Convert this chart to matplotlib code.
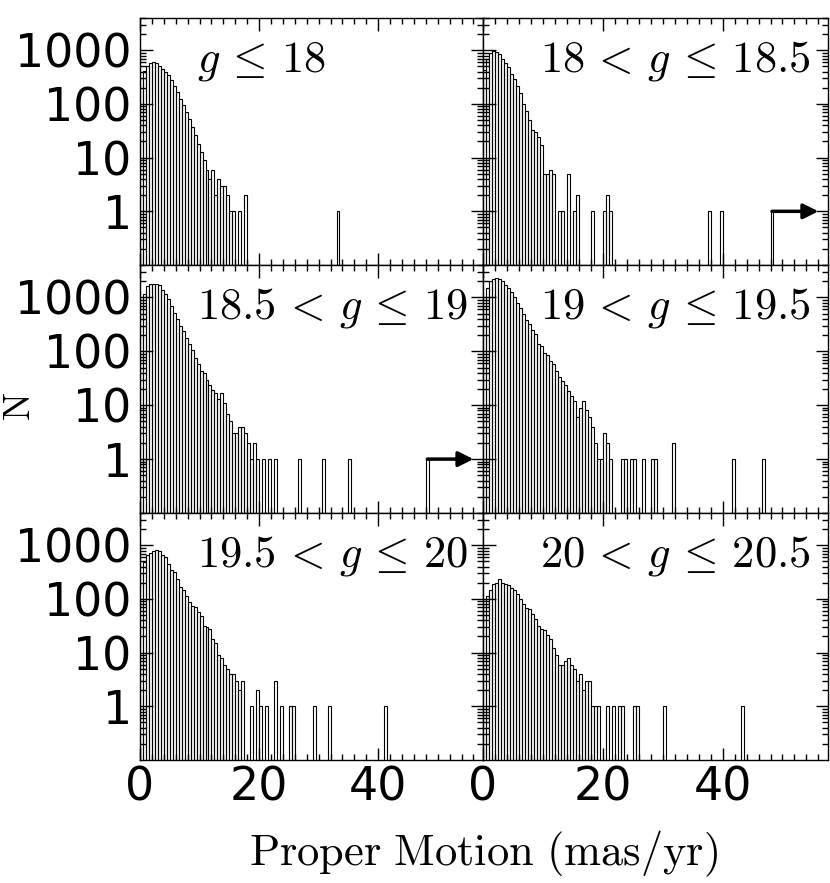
import numpy as np
import matplotlib
matplotlib.use("Agg")
import matplotlib.pyplot as plt
from matplotlib.ticker import FixedLocator, LogLocator, NullFormatter

plt.rcParams['mathtext.fontset'] = 'cm'
plt.rcParams['axes.unicode_minus'] = False

BIN = 0.5
labels = [r'$g\,\leq\,18$', r'$18\,<\,g\,\leq\,18.5$', r'$18.5\,<\,g\,\leq\,19$',
          r'$19\,<\,g\,\leq\,19.5$', r'$19.5\,<\,g\,\leq\,20$', r'$20\,<\,g\,\leq\,20.5$']

# counts in 0.5 mas/yr bins starting at 0 (contiguous block)
counts1 = [300, 420, 520, 580, 610, 575, 520, 450, 390, 340, 285, 220, 165, 125, 95, 70,
           52, 38, 26, 18, 13, 9, 6, 4, 6, 2, 4, 3, 3, 2, 1, 1, 0, 1, 0, 2]
counts2 = [423, 700, 890, 960, 935, 860, 700, 580, 490, 365, 287, 220, 162, 100, 75, 50,
           33, 30, 24, 17, 5, 5, 6, 5, 0, 1, 1, 0, 5, 0, 1, 2, 0, 0, 0, 0, 1, 0, 0, 0, 1, 2, 1]
counts3 = [1000, 1150, 1650, 1750, 1800, 1800, 1700, 1400, 1150, 930, 700, 525, 390, 295,
           240, 180, 135, 108, 75, 57, 43, 40, 30, 24, 19, 17, 13, 17, 11, 7, 5, 3, 3, 4, 4,
           3, 2, 1, 2, 1, 0, 1, 0, 1, 0, 1]
counts4 = [1000, 1490, 2000, 2190, 2270, 2190, 2000, 1720, 1490, 1240, 1000, 805, 650, 500,
           377, 317, 245, 206, 134, 125, 94, 87, 66, 57, 43, 34, 28, 24, 18, 15, 12, 6, 9, 12,
           8, 6, 4, 2, 1, 1, 3, 2, 1]
counts5 = [309, 490, 650, 730, 770, 805, 770, 650, 605, 455, 340, 317, 238, 167, 145, 116,
           87, 75, 70, 57, 49, 32, 30, 28, 18, 15, 9, 8, 6, 5, 4, 4, 3, 2, 3]
counts6 = [70, 116, 145, 192, 200, 232, 200, 192, 184, 160, 145, 125, 98, 81, 67, 66,
           53, 43, 32, 28, 26, 21, 18, 12, 9, 6, 6, 7, 8, 6, 5, 3, 4, 2, 3, 3, 1, 1, 1]
# isolated bins beyond the block: (left edge in mas/yr, count)
tail_edges = [
    [33.0],
    [37.5, 39.5],
    [26.5, 30.5, 35.0],
    [23.0, 23.5, 24.5, 25.0, 26.5, 28.0, 28.5, 31.5, 41.5, 46.5],
    [18.5, 19.5, 20.0, 21.0, 22.5, 23.5, 25.0, 25.5, 29.0, 31.5, 41.0],
    [20.5, 21.5, 22.5, 23.0, 25.0, 25.5, 30.0, 43.0],
]
tail_counts = [
    [1],
    [1, 1],
    [1, 1, 1],
    [1, 1, 1, 1, 1, 1, 1, 2, 1, 1],
    [1, 2, 1, 1, 3, 1, 1, 1, 1, 1, 1],
    [1, 1, 1, 1, 1, 1, 1, 1],
]
overflow = [None, 48.0, 48.0, None, None, None]
all_counts = [counts1, counts2, counts3, counts4, counts5, counts6]

fig = plt.figure(figsize=(8.3, 8.83), dpi=100)
W, H = 830.0, 883.0
cols = [(140, 483), (483, 828)]
rows = [(18, 265), (265, 513), (513, 760)]
TICKFONT = dict(fontsize=33, family='DejaVu Sans')

for i in range(6):
    r, c = divmod(i, 2)
    x0, x1 = cols[c]
    y0, y1 = rows[r]
    ax = fig.add_axes([x0 / W, 1 - y1 / H, (x1 - x0) / W, (y1 - y0) / H])
    cnt = np.array(all_counts[i], dtype=float)
    edges = np.arange(len(cnt)) * BIN
    edges = np.concatenate([edges, tail_edges[i]])
    cnt = np.concatenate([cnt, tail_counts[i]])
    if overflow[i] is not None:
        edges = np.append(edges, overflow[i])
        cnt = np.append(cnt, 1)
    m = cnt > 0
    ax.bar(edges[m], cnt[m], width=BIN, align='edge', bottom=0.01, fill=False,
           edgecolor='black', linewidth=0.8)
    if overflow[i] is not None:
        ax.annotate('', xy=(56.0, 1), xytext=(overflow[i] + 0.25, 1),
                    arrowprops=dict(arrowstyle='-|>,head_length=0.9,head_width=0.45',
                                    color='black', lw=2.5, shrinkA=0, shrinkB=0))
    ax.set_yscale('log')
    ax.set_xlim(0, 57.6)
    ax.set_ylim(0.1, 4000)
    ax.xaxis.set_major_locator(FixedLocator([0, 20, 40]))
    ax.xaxis.set_minor_locator(FixedLocator(np.arange(0, 58, 2)))
    ax.yaxis.set_major_locator(FixedLocator([1, 10, 100, 1000]))
    ax.yaxis.set_minor_locator(LogLocator(base=10, subs=np.arange(2, 10)))
    ax.yaxis.set_minor_formatter(NullFormatter())
    ax.tick_params(which='both', direction='in', top=True, right=True, width=1.0)
    ax.tick_params(which='major', length=9)
    ax.tick_params(which='minor', length=4.5)
    for s in ax.spines.values():
        s.set_linewidth(1.0)
    if c == 0:
        ax.set_yticklabels(['1', '10', '100', '1000'], **TICKFONT)
    else:
        ax.set_yticklabels([])
    if r == 2:
        ax.set_xticklabels(['0', '20', '40'], **TICKFONT)
    else:
        ax.set_xticklabels([])
    ax.tick_params(axis='y', which='major', pad=6)
    ax.tick_params(axis='x', which='major', pad=4)
    ax.text(9.5, 400, labels[i], fontsize=32, ha='left', va='baseline')

fig.text(19 / W, 1 - 405 / H, 'N', family='cmr10', fontsize=27, rotation=90,
         ha='center', va='center')
fig.text(483 / W, 1 - 854 / H, r'$\mathrm{Proper\ Motion\ (mas/yr)}$', fontsize=32,
         ha='center', va='center')

fig.savefig('out.png', dpi=100)
